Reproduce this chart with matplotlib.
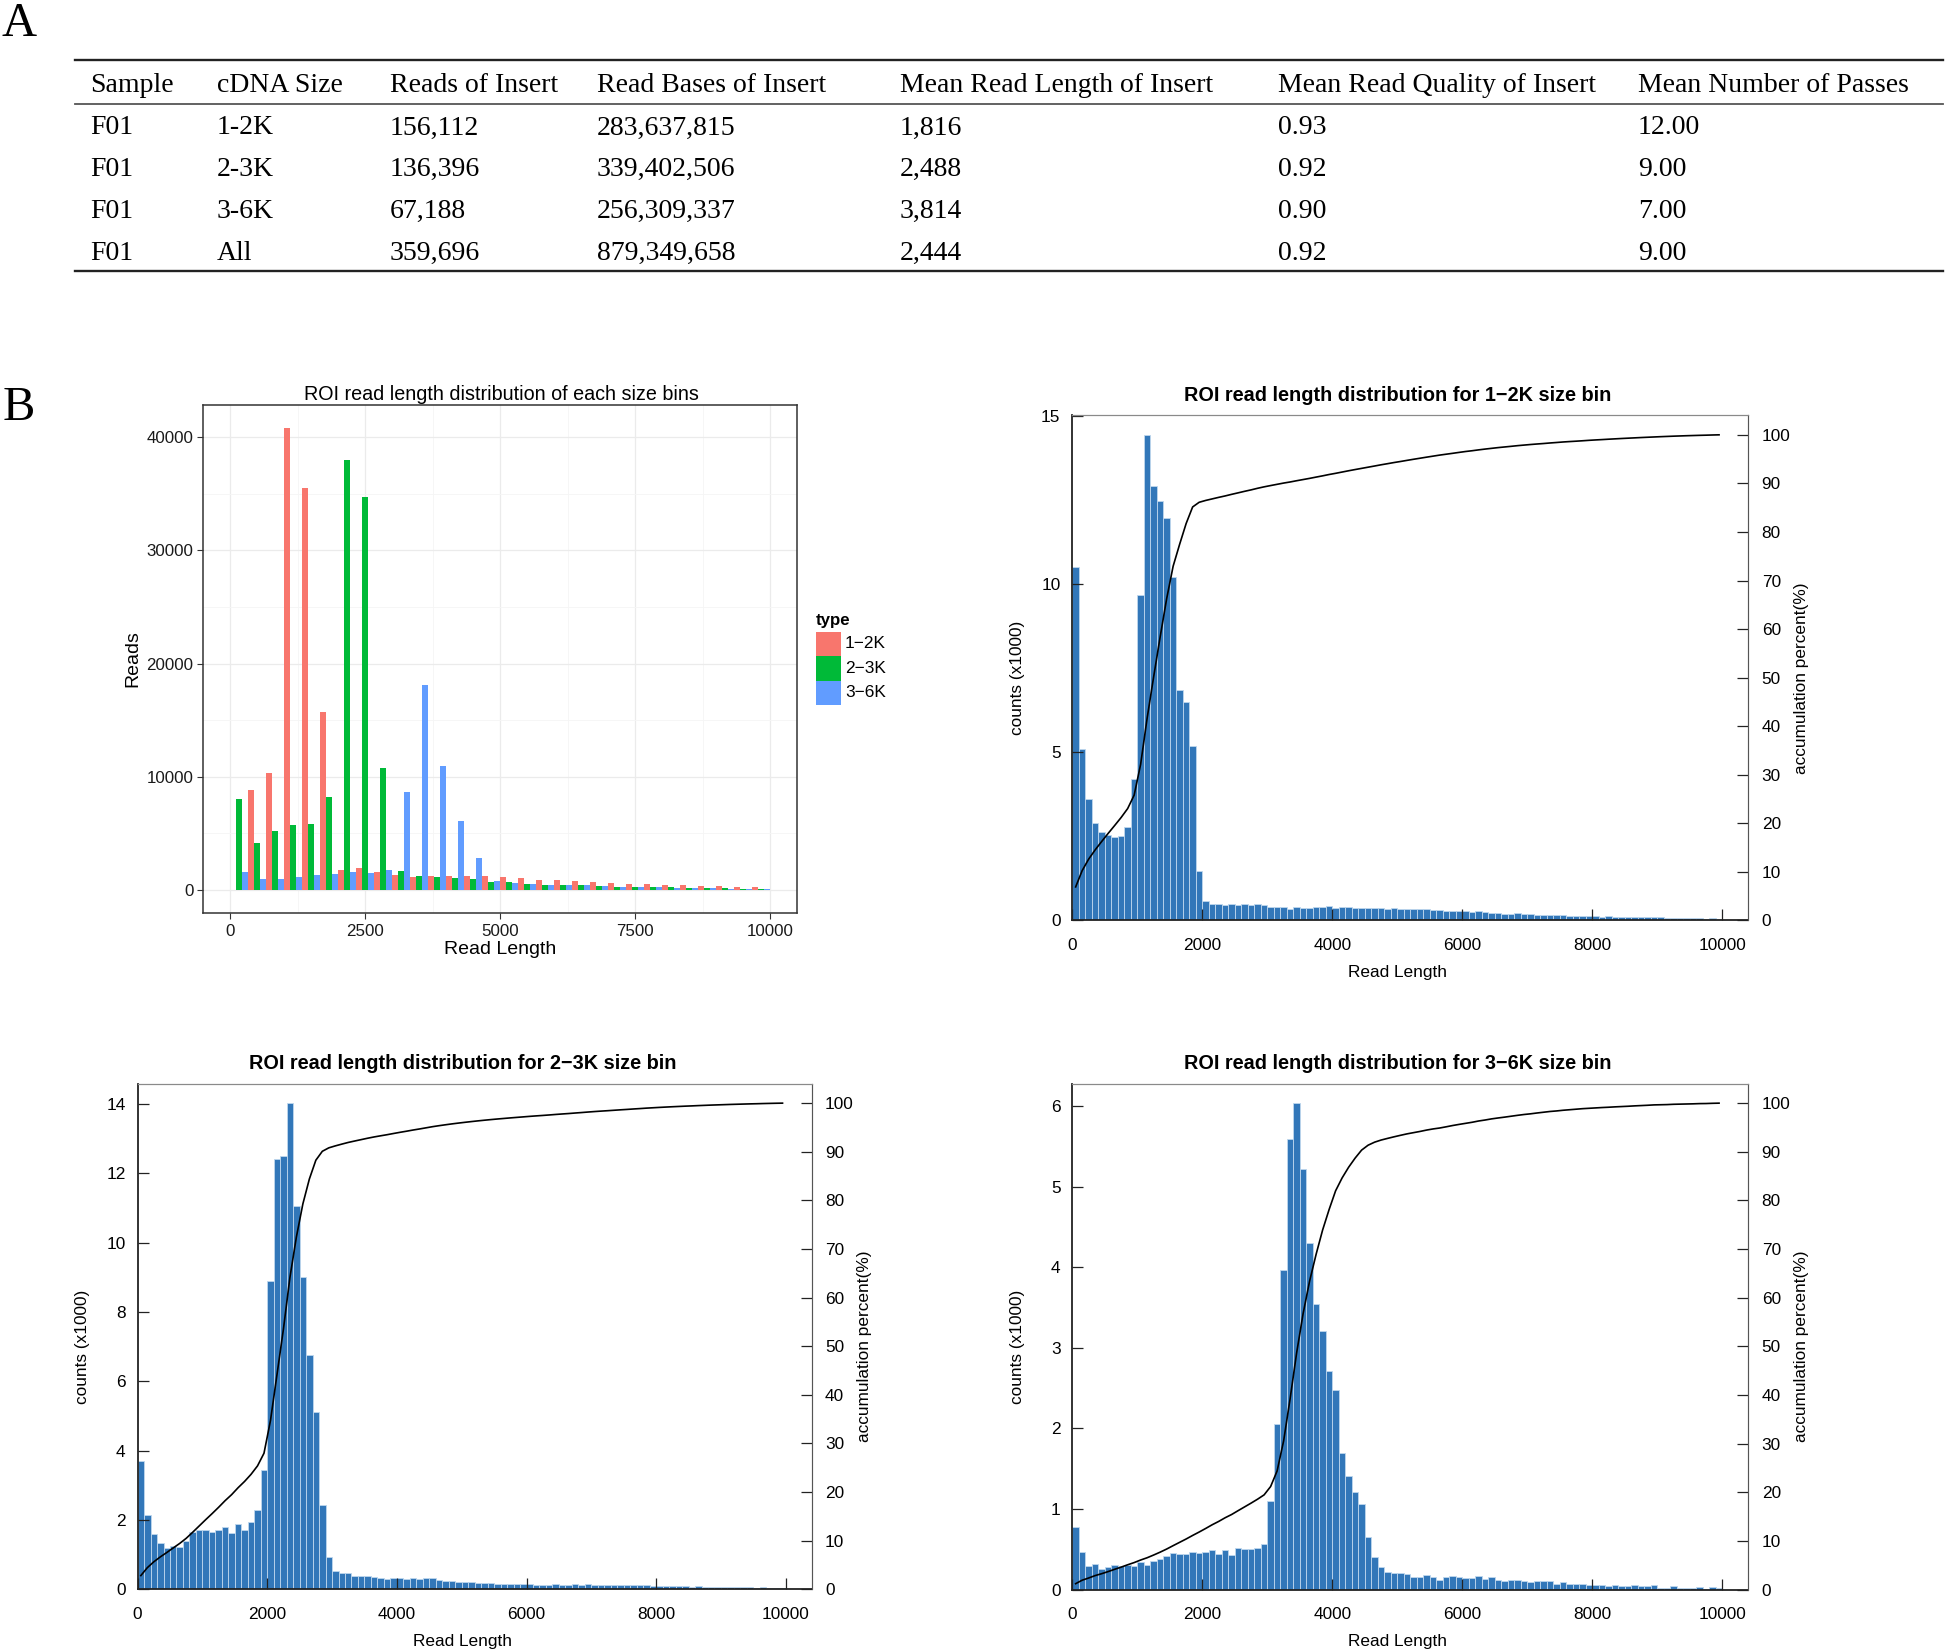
import numpy as np
import matplotlib
matplotlib.use('Agg')
import matplotlib.pyplot as plt
from matplotlib.patches import Rectangle
from matplotlib.lines import Line2D

# ---- data -------------------------------------------------------------
table_header = ["Sample", "cDNA Size", "Reads of Insert", "Read Bases of Insert",
                "Mean Read Length of Insert", "Mean Read Quality of Insert",
                "Mean Number of Passes"]
table_rows = [
    ["F01", "1-2K", "156,112", "283,637,815", "1,816", "0.93", "12.00"],
    ["F01", "2-3K", "136,396", "339,402,506", "2,488", "0.92", "9.00"],
    ["F01", "3-6K", "67,188", "256,309,337", "3,814", "0.90", "7.00"],
    ["F01", "All", "359,696", "879,349,658", "2,444", "0.92", "9.00"],
]

size_bins = ["1\u22122K", "2\u22123K", "3\u22126K"]
size_colors = ["#F8766D", "#00BA38", "#619CFF"]

# ggplot histogram (30 bins over 0-10000), reads per bin
reads_12k = [0, 8800, 10350, 40800, 35500, 15700, 1750, 1900, 1560, 1300,
             1120, 1250, 1250, 1200, 1200, 1100, 1050, 900, 850, 800,
             700, 650, 550, 500, 450, 400, 380, 320, 280, 250]
reads_23k = [8000, 4160, 5180, 5750, 5850, 8200, 38000, 34700, 10750, 1700,
             1250, 1100, 1050, 950, 700, 700, 500, 450, 400, 400,
             350, 300, 300, 300, 250, 200, 180, 150, 120, 100]
reads_36k = [1620, 950, 1000, 1100, 1300, 1450, 1550, 1520, 1750, 8630,
             18140, 10930, 6090, 2800, 800, 600, 500, 450, 450, 400,
             350, 300, 250, 220, 200, 180, 150, 120, 100, 80]

# counts (x1000) per 100 bp bin, 0-10000
hist_12k = [10.51, 5.09, 3.61, 2.89, 2.62, 2.54, 2.47, 2.52, 2.78, 4.20,
            9.67, 14.44, 12.92, 12.48, 11.96, 10.21, 6.86, 6.49, 5.19, 1.46,
            0.58, 0.48, 0.48, 0.45, 0.50, 0.47, 0.48, 0.45, 0.50, 0.45,
            0.40, 0.39, 0.39, 0.34, 0.39, 0.37, 0.37, 0.40, 0.39, 0.42,
            0.37, 0.40, 0.40, 0.38, 0.37, 0.37, 0.37, 0.38, 0.35, 0.36,
            0.33, 0.35, 0.34, 0.33, 0.33, 0.32, 0.32, 0.28, 0.28, 0.29,
            0.28, 0.24, 0.27, 0.25, 0.23, 0.23, 0.20, 0.20, 0.21, 0.18,
            0.18, 0.16, 0.15, 0.17, 0.15, 0.16, 0.13, 0.12, 0.13, 0.14,
            0.12, 0.11, 0.12, 0.11, 0.11, 0.10, 0.10, 0.10, 0.09, 0.09,
            0.09, 0.08, 0.08, 0.07, 0.07, 0.06, 0.06, 0.05, 0.06, 0.05]
hist_23k = [3.71, 2.15, 1.60, 1.33, 1.20, 1.25, 1.23, 1.39, 1.65, 1.71,
            1.71, 1.66, 1.72, 1.80, 1.63, 1.89, 1.71, 1.94, 2.30, 3.45,
            8.90, 12.43, 12.50, 14.03, 11.05, 9.00, 6.76, 5.12, 2.43, 0.94,
            0.53, 0.48, 0.46, 0.39, 0.38, 0.38, 0.35, 0.31, 0.30, 0.33,
            0.32, 0.30, 0.32, 0.29, 0.31, 0.31, 0.27, 0.25, 0.24, 0.22,
            0.21, 0.20, 0.19, 0.18, 0.17, 0.16, 0.15, 0.15, 0.14, 0.14,
            0.14, 0.13, 0.12, 0.13, 0.14, 0.13, 0.12, 0.14, 0.13, 0.14,
            0.13, 0.12, 0.11, 0.12, 0.12, 0.11, 0.12, 0.11, 0.12, 0.10,
            0.10, 0.09, 0.09, 0.08, 0.08, 0.07, 0.08, 0.07, 0.07, 0.06,
            0.06, 0.06, 0.05, 0.05, 0.05, 0.04, 0.05, 0.04, 0.04, 0.03]
hist_36k = [0.77, 0.46, 0.29, 0.32, 0.25, 0.28, 0.30, 0.29, 0.31, 0.29,
            0.34, 0.30, 0.36, 0.38, 0.41, 0.45, 0.44, 0.44, 0.47, 0.45,
            0.47, 0.49, 0.44, 0.49, 0.43, 0.51, 0.50, 0.50, 0.52, 0.57,
            1.10, 2.06, 3.97, 5.59, 6.04, 5.22, 4.30, 3.54, 3.21, 2.71,
            2.48, 1.70, 1.41, 1.21, 1.06, 0.65, 0.40, 0.28, 0.22, 0.21,
            0.20, 0.19, 0.16, 0.16, 0.18, 0.15, 0.12, 0.16, 0.17, 0.15,
            0.14, 0.14, 0.17, 0.13, 0.15, 0.12, 0.11, 0.12, 0.12, 0.11,
            0.09, 0.11, 0.10, 0.10, 0.07, 0.09, 0.07, 0.07, 0.07, 0.05,
            0.05, 0.05, 0.04, 0.05, 0.04, 0.04, 0.05, 0.04, 0.04, 0.05,
            0.02, 0.02, 0.04, 0.02, 0.02, 0.02, 0.03, 0.01, 0.03, 0.02]

# ---- layout helpers (pixel coords of the 1946x1652 figure) -----------
W, H = 1946, 1652
plt.rcParams['font.family'] = ['Liberation Sans', 'DejaVu Sans']
fig = plt.figure(figsize=(W / 100, H / 100), dpi=100)


def fx(x):
    return x / W


def fy(y):
    return 1 - y / H


def add_ax(l, t, r, b):
    return fig.add_axes([l / W, 1 - b / H, (r - l) / W, (b - t) / H])


def hline(x0, x1, y, lw, color):
    fig.add_artist(Line2D([fx(x0), fx(x1)], [fy(y), fy(y)], lw=lw, color=color,
                          transform=fig.transFigure))


# ---- A: table -----------------------------------------------------------
serif = ['Liberation Serif', 'DejaVu Serif']
fig.text(fx(19), fy(24), "A", family=serif, fontsize=35, ha='center', va='center')
fig.text(fx(19), fy(408), "B", family=serif, fontsize=35, ha='center', va='center')

col_x = [90.6, 217, 389.6, 597, 899.5, 1278, 1637.8]
hline(74.5, 1943, 60, 1.7, '#222222')
hline(74.5, 1943, 104, 1.3, '#555555')
hline(74.5, 1943, 271, 1.7, '#222222')
for x, txt in zip(col_x, table_header):
    fig.text(fx(x), fy(92.5), txt, family=serif, fontsize=20, va='baseline')
row_base = [134.5, 175.5, 217.5, 259.5]
for yb, row in zip(row_base, table_rows):
    for x, txt in zip(col_x, row):
        fig.text(fx(x), fy(yb), txt, family=serif, fontsize=20, va='baseline')

# ---- B1: ggplot style dodged histogram ------------------------------------
ax = add_ax(203, 405.2, 797.3, 913)
bin_w = 10000 / 30
edges = np.arange(30) * bin_w
for i, vals in enumerate([reads_12k, reads_23k, reads_36k]):
    ax.bar(edges + bin_w / 6 + i * bin_w / 3, vals, width=bin_w / 3,
           color=size_colors[i], linewidth=0)
ax.set_xlim(-500, 10500)
ax.set_ylim(-2040, 42840)
ax.set_xticks([0, 2500, 5000, 7500, 10000])
ax.set_xticks([1250, 3750, 6250, 8750], minor=True)
ax.set_yticks([0, 10000, 20000, 30000, 40000])
ax.set_yticks([5000, 15000, 25000, 35000], minor=True)
ax.grid(which='major', color='#EBEBEB', lw=0.9)
ax.grid(which='minor', color='#F5F5F5', lw=0.6)
ax.set_axisbelow(True)
ax.tick_params(which='major', direction='out', length=4, width=0.8, color='#333333',
               labelsize=12.2, labelcolor='#1a1a1a', pad=3)
ax.tick_params(axis='x', pad=4)
ax.tick_params(which='minor', length=0)
for s in ax.spines.values():
    s.set_color('#333333')
    s.set_linewidth(1.1)
fig.text(fx(501), fy(394), "ROI read length distribution of each size bins",
         fontsize=14.2, ha='center', va='center')
fig.text(fx(133), fy(659), "Reads", fontsize=14, rotation=90, ha='center', va='center')
fig.text(fx(500), fy(950), "Read Length", fontsize=14, ha='center', va='center')

# legend
fig.text(fx(816), fy(621), "type", fontsize=12.2, fontweight='bold', va='center')
key_tops = [631.7, 656.5, 680.7]
for top, lab, col in zip(key_tops, size_bins, size_colors):
    fig.add_artist(Rectangle((fx(816), fy(top + 24)), 24.7 / W, 24 / H,
                             transform=fig.transFigure, color=col, lw=0))
    fig.text(fx(845), fy(top + 12), lab, fontsize=12.4, va='center')

# ---- B2-B4: histograms with accumulation curve ---------------------------
BAR_COLOR = '#3277B9'
BAR_EDGE = '#BFD7EE'


def draw_hist(l, t, r, b, counts, yticks, title):
    counts = np.array(counts)
    axh = add_ax(l, t, r, b)
    centers = np.arange(len(counts)) * 100 + 50
    axh.bar(centers, counts, width=100, color=BAR_COLOR, edgecolor=BAR_EDGE,
            linewidth=0.6)
    axh.set_xlim(0, 10400)
    axh.set_ylim(0, counts.max() * 1.04)
    axh.set_xticks(np.arange(0, 10001, 2000))
    axh.set_yticks(yticks)
    axh.tick_params(direction='in', length=8, width=0.9, color='#222222',
                    labelsize=12.4)
    axh.tick_params(axis='x', pad=12.5)
    axh.tick_params(axis='y', pad=8.6)
    axh.spines['left'].set_color('#222222')
    axh.spines['bottom'].set_color('#222222')
    axh.spines['left'].set_linewidth(1.3)
    axh.spines['bottom'].set_linewidth(1.3)
    axh.spines['top'].set_color('#8a8a8a')
    axh.spines['right'].set_color('#8a8a8a')

    ax2 = axh.twinx()
    cum = np.cumsum(counts) / counts.sum() * 100
    ax2.plot(centers, cum, color='black', lw=1.2)
    ax2.set_ylim(0, 104)
    ax2.set_yticks(np.arange(0, 101, 10))
    ax2.tick_params(direction='in', length=8, width=0.9, color='#222222',
                    labelsize=12.4, pad=9.6)
    ax2.spines['top'].set_color('#8a8a8a')
    ax2.spines['right'].set_color('#555555')
    ax2.spines['left'].set_visible(False)
    ax2.spines['bottom'].set_visible(False)

    # titles sit a bit left of the panel centre, as in R output
    cx = l + 325
    fig.text(fx(cx), fy(t - 20), title, fontsize=14.3, fontweight='bold',
             ha='center', va='center')
    fig.text(fx(l - 55), fy((t + b) / 2 + 10), "counts (x1000)", fontsize=12.4,
             rotation=90, ha='center', va='center')
    fig.text(fx(r + 53), fy((t + b) / 2 + 10), "accumulation percent(%)",
             fontsize=12.4, rotation=90, ha='center', va='center')
    fig.text(fx(cx), fy(b + 52), "Read Length", fontsize=12.4,
             ha='center', va='center')


draw_hist(1072.4, 415.4, 1748.3, 920.5, hist_12k, [0, 5, 10, 15],
          "ROI read length distribution for 1\u22122K size bin")
draw_hist(137.6, 1083.7, 811.7, 1589.2, hist_23k, [0, 2, 4, 6, 8, 10, 12, 14],
          "ROI read length distribution for 2\u22123K size bin")
draw_hist(1072.4, 1083.7, 1748.3, 1589.5, hist_36k, [0, 1, 2, 3, 4, 5, 6],
          "ROI read length distribution for 3\u22126K size bin")

fig.savefig("out.png", dpi=100)
